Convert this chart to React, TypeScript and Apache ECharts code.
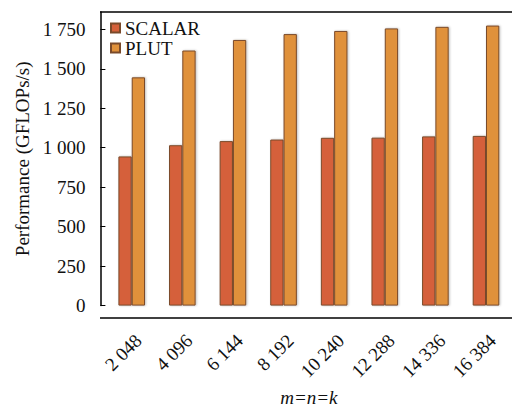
import React, { useEffect, useRef } from "react";
import * as echarts from "echarts";

const categories = ["2 048", "4 096", "6 144", "8 192", "10 240", "12 288", "14 336", "16 384"];
const scalarValues = [945, 1016, 1042, 1052, 1063, 1064, 1072, 1075];
const plutValues = [1446, 1616, 1683, 1720, 1740, 1756, 1766, 1774];
const yTicks = [0, 250, 500, 750, 1000, 1250, 1500, 1750];

const FONT = "'Liberation Serif', 'Times New Roman', serif";

function fmt(v: number): string {
  if (v >= 1000) {
    const th = Math.floor(v / 1000);
    const rest = String(v % 1000).padStart(3, "0");
    return `${th} ${rest}`;
  }
  return String(v);
}

export default function App() {
  const ref = useRef<HTMLDivElement>(null);
  useEffect(() => {
    if (!ref.current) return;
    const chart = echarts.init(ref.current, undefined, { renderer: "svg" });
    const barStyle = (color: string) => ({
      color,
      borderColor: "#7a4a2a",
      borderWidth: 1,
      shadowColor: "rgba(0,0,0,0.25)",
      shadowBlur: 2,
      shadowOffsetX: 1,
      shadowOffsetY: 0,
    });
    chart.setOption({
      animation: false,
      backgroundColor: "#ffffff",
      textStyle: { fontFamily: FONT },
      grid: { left: 106.4, right: 0.7, top: 12, bottom: 94, containLabel: false },
      legend: {
        orient: "vertical",
        left: 110,
        top: 18.5,
        itemWidth: 9,
        itemHeight: 9,
        itemGap: 1,
        padding: 0,
        icon: "rect",
        textStyle: { fontFamily: FONT, fontSize: 19, color: "#111", lineHeight: 16 },
        data: ["SCALAR", "PLUT"],
      },
      xAxis: {
        type: "category",
        data: categories,
        axisLine: { show: false },
        axisTick: { show: false },
        axisLabel: {
          rotate: 45,
          margin: 25,
          verticalAlign: "top",
          fontFamily: FONT,
          fontSize: 19,
          color: "#111",
          interval: 0,
        },
        name: "m=n=k",
        nameLocation: "middle",
        nameGap: 78,
        nameTextStyle: { fontFamily: FONT, fontSize: 19, fontStyle: "italic", color: "#111" },
      },
      yAxis: {
        type: "value",
        min: 0,
        max: 1860,
        interval: 250,
        offset: 6,
        splitLine: { show: false },
        axisLine: { show: true, lineStyle: { color: "#000", width: 1.5 } },
        axisTick: {
          show: true,
          inside: true,
          length: 5,
          lineStyle: { color: "#000", width: 1 },
          customValues: yTicks,
        },
        axisLabel: {
          margin: 15,
          fontFamily: FONT,
          fontSize: 19,
          color: "#111",
          customValues: yTicks,
          formatter: (v: number) => fmt(v),
        },
        name: "Performance (GFLOPs/s)",
        nameLocation: "middle",
        nameGap: 68,
        nameTextStyle: { fontFamily: FONT, fontSize: 19, color: "#111" },
      },
      graphic: [
        { type: "line", shape: { x1: 100, y1: 12, x2: 512, y2: 12 }, style: { stroke: "#000", lineWidth: 1.5 }, z: 100 },
        { type: "line", shape: { x1: 100, y1: 318, x2: 512, y2: 318 }, style: { stroke: "#000", lineWidth: 1.5 }, z: 100 },
      ],
      series: [
        {
          name: "SCALAR",
          type: "bar",
          data: scalarValues,
          barWidth: 13.3,
          barGap: "0%",
          itemStyle: barStyle("#d5613a"),
        },
        {
          name: "PLUT",
          type: "bar",
          data: plutValues,
          barWidth: 13.3,
          barGap: "0%",
          itemStyle: barStyle("#e0913b"),
        },
      ],
    });
    return () => chart.dispose();
  }, []);
  return <div ref={ref} style={{ position: "fixed", left: 0, top: 0, width: 512, height: 412 }} />;
}
